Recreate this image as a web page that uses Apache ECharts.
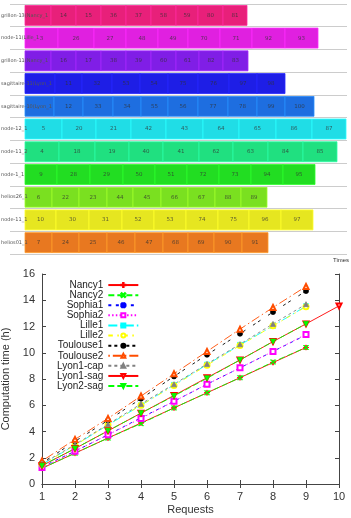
<!DOCTYPE html>
<html>
<head>
<meta charset="UTF-8">
<title>chart</title>
<script src="https://cdn.jsdelivr.net/npm/echarts@6/dist/echarts.min.js"></script>
<style>
html, body { margin: 0; padding: 0; background: #fff; }
#main { width: 351px; height: 518px; }
</style>
</head>
<body>
<div id="main"></div>
<script>
// ---- top: task placement on hosts (times in s) ----
var hosts = ['grillon-13(Nancy_1', 'node-11(Lille_1', 'grillon-11(Nancy_1', 'sagittaire-11(Lyon_1',
    'sagittaire-10(Lyon_1', 'node-12_1', 'node-11_2', 'node-1_1', 'helios26_1', 'node-11_1', 'helios01_1'];
var hostColors = ['#e8207a', '#e020e0', '#801ee6', '#1e1ee6', '#1e6ee0', '#20dde6',
    '#20e080', '#22dd22', '#7ae020', '#e6e620', '#e87820'];
var taskStart = 450;
var taskEnds = [
    [1230, 1980, 2730, 3480, 4230, 4980, 5640, 6390, 7110],
    [1440, 2520, 3480, 4440, 5340, 6300, 7260, 8250, 9240],
    [1230, 1980, 2730, 3480, 4230, 4980, 5670, 6390, 7140],
    [1350, 2160, 3060, 3900, 4740, 5640, 6570, 7410, 8250],
    [1320, 2190, 3090, 3930, 4740, 5640, 6540, 7410, 8250, 9120],
    [1560, 2580, 3630, 4680, 5790, 6870, 7980, 9060, 10080],
    [1470, 2550, 3570, 4590, 5670, 6690, 7740, 8790, 9810],
    [1410, 2400, 3390, 4350, 5310, 6270, 7230, 8190, 9150],
    [1260, 2070, 2910, 3690, 4530, 5340, 6150, 6930, 7710],
    [1380, 2370, 3360, 4320, 5280, 6240, 7170, 8130, 9090],
    [1260, 2070, 2910, 3750, 4590, 5340, 6120, 6960, 7740]
];
var taskIds = [
    ['', 14, 15, 36, 37, 58, 59, 80, 81],
    [3, 26, 27, 48, 49, 70, 71, 92, 93],
    ['', 16, 17, 38, 39, 60, 61, 82, 83],
    ['', 11, 32, 53, 54, 75, 76, 97, 98],
    ['', 12, 33, 34, 55, 56, 77, 78, 99, 100],
    [5, 20, 21, 42, 43, 64, 65, 86, 87],
    [4, 18, 19, 40, 41, 62, 63, 84, 85],
    [9, 28, 29, 50, 51, 72, 73, 94, 95],
    [6, 22, 23, 44, 45, 66, 67, 88, 89],
    [10, 30, 31, 52, 53, 74, 75, 96, 97],
    [7, 24, 25, 46, 47, 68, 69, 90, 91]
];

// ---- bottom: computation time (h) vs requests ----
var requests = [1, 2, 3, 4, 5, 6, 7, 8, 9, 10];
var nancy1 = [1.2, 2.35, 3.5, 4.65, 5.8, 6.95, 8.1, 9.25, 10.4];
var nancy2 = [1.2, 2.35, 3.5, 4.6, 5.8, 6.95, 8.1, 9.3, 10.4];
var sophia1 = [1.3, 2.5, 3.75, 5.05, 6.3, 7.6, 8.85, 10.1, 11.35];
var sophia2 = [1.25, 2.5, 3.75, 5.0, 6.3, 7.6, 8.85, 10.1, 11.4];
var lille1 = [1.5, 2.95, 4.5, 6.0, 7.55, 9.1, 10.6, 12.05, 13.55];
var lille2 = [1.5, 2.95, 4.5, 6.0, 7.5, 9.05, 10.55, 12.05, 13.5];
var toulouse1 = [1.6, 3.25, 4.85, 6.5, 8.2, 9.85, 11.45, 13.1, 14.7];
var toulouse2 = [1.75, 3.4, 5.0, 6.7, 8.4, 10.1, 11.8, 13.45, 15.05];
var lyon1cap = [1.55, 3.0, 4.55, 6.1, 7.6, 9.15, 10.65, 12.2, 13.7];
var lyon1sag = [1.4, 2.7, 4.05, 5.4, 6.75, 8.1, 9.45, 10.85, 12.2, 13.57];
var lyon2sag = [1.4, 2.7, 4.05, 5.4, 6.7, 8.05, 9.45, 10.85, 12.2];

var chart = echarts.init(document.getElementById('main'));

var tasks = [];
for (var r = 0; r < hosts.length; r++) {
    var s = taskStart;
    for (var k = 0; k < taskEnds[r].length; k++) {
        tasks.push([r, s, taskEnds[r][k], taskIds[r][k]]);
        s = taskEnds[r][k];
    }
}

function renderTask(params, api) {
    var row = api.value(0);
    var p0 = api.coord([api.value(1), row]);
    var p1 = api.coord([api.value(2), row]);
    var h = api.size([0, 1])[1] * 0.88;
    var col = hostColors[row];
    return {
        type: 'rect',
        shape: { x: p0[0], y: p0[1] - h / 2, width: p1[0] - p0[0], height: h },
        style: { fill: col, stroke: echarts.color.lift(col, -0.3), lineWidth: 0.8 },
        textContent: {
            style: { text: '' + api.value(3), fontSize: 5.5, fill: 'rgba(50,50,50,0.75)', fontFamily: 'DejaVu Sans' }
        },
        textConfig: { position: 'inside' }
    };
}

var dl = 1.5;
function pts(arr) {
    var out = [];
    for (var i = 0; i < arr.length; i++) out.push([requests[i], arr[i]]);
    return out;
}
var plusPath = 'path://M0,4.4H10V5.6H0Z M4.4,0H5.6V10H4.4Z';
var crossPath = 'path://M1,0L5,4L9,0L10,1L6,5L10,9L9,10L5,6L1,10L0,9L4,5L0,1Z';
var starPath = 'path://M0,4.4H10V5.6H0Z M4.4,0H5.6V10H4.4Z M1.5,0.7L5,4.2L8.5,0.7L9.3,1.5L5.8,5L9.3,8.5L8.5,9.3L5,5.8L1.5,9.3L0.7,8.5L4.2,5L0.7,1.5Z';

function lineSeries(name, arr, color, dash, symbol, rot) {
    return {
        name: name, type: 'line', xAxisIndex: 1, yAxisIndex: 1,
        data: pts(arr), symbol: symbol, symbolSize: 5, symbolRotate: rot || 0,
        showAllSymbol: true, animation: false,
        lineStyle: { color: color, width: 0.9, type: dash },
        itemStyle: { color: color, borderColor: color, borderWidth: 0.8 }
    };
}

var axisGray = '#444';
var option = {
    animation: false,
    textStyle: { fontFamily: 'Liberation Sans' },
    grid: [
        { left: 10, top: 4, width: 337, height: 250, outerBoundsMode: 'none', containLabel: false },
        { left: 42, top: 274, right: 12, bottom: 34, outerBoundsMode: 'none', containLabel: false }
    ],
    xAxis: [
        {
            gridIndex: 0, type: 'value', min: 0, max: 10110, interval: 500,
            name: 'Times', nameLocation: 'end', nameGap: -14,
            nameTextStyle: { fontSize: 6, color: '#333', verticalAlign: 'top', padding: [3, 0, 0, 0] },
            axisLine: { lineStyle: { color: '#999', width: 1 } },
            axisTick: { length: 3, lineStyle: { color: '#999' } },
            axisLabel: { show: false }, splitLine: { show: false }
        },
        {
            gridIndex: 1, type: 'value', min: 1, max: 10, interval: 1,
            name: 'Requests', nameLocation: 'middle', nameGap: 20,
            nameTextStyle: { fontSize: 11, color: '#333' },
            axisLine: { lineStyle: { color: axisGray, width: 1 } },
            axisTick: { inside: true, length: 4, lineStyle: { color: axisGray } },
            axisLabel: { fontSize: 11, color: '#333', margin: 7 },
            splitLine: { show: false }
        },
        {
            gridIndex: 1, type: 'value', min: 1, max: 10, interval: 1, position: 'top',
            axisLine: { lineStyle: { color: axisGray, width: 1 } },
            axisTick: { inside: true, length: 4, lineStyle: { color: axisGray } },
            axisLabel: { show: false }, splitLine: { show: false }
        }
    ],
    yAxis: [
        {
            gridIndex: 0, type: 'category', data: hosts, inverse: true, z: 10,
            axisLine: { show: false }, axisTick: { show: false },
            axisLabel: { align: 'left', margin: 9, fontSize: 5, color: '#555', fontFamily: 'DejaVu Sans' },
            splitLine: { show: true, lineStyle: { color: '#ccc', width: 1 } }
        },
        {
            gridIndex: 1, type: 'value', min: 0, max: 16, interval: 2,
            name: 'Computation time (h)', nameLocation: 'middle', nameGap: 30,
            nameTextStyle: { fontSize: 11, color: '#333' },
            axisLine: { lineStyle: { color: axisGray, width: 1 } },
            axisTick: { inside: true, length: 4, lineStyle: { color: axisGray } },
            axisLabel: { fontSize: 11, color: '#333', margin: 7 },
            splitLine: { show: false }
        },
        {
            gridIndex: 1, type: 'value', min: 0, max: 16, interval: 2, position: 'right',
            axisLine: { lineStyle: { color: axisGray, width: 1 } },
            axisTick: { inside: true, length: 4, lineStyle: { color: axisGray } },
            axisLabel: { show: false }, splitLine: { show: false }
        }
    ],
    legend: {
        orient: 'vertical', align: 'right', left: 52, top: 275,
        itemWidth: 30, itemHeight: 5, itemGap: 0,
        textStyle: { fontSize: 10, lineHeight: 10.1, color: '#222' },
        data: ['Nancy1', 'Nancy2', 'Sophia1', 'Sophia2', 'Lille1', 'Lille2', 'Toulouse1', 'Toulouse2', 'Lyon1-cap', 'Lyon1-sag', 'Lyon2-sag']
    },
    series: [
        {
            type: 'custom', xAxisIndex: 0, yAxisIndex: 0, renderItem: renderTask,
            encode: { x: [1, 2], y: 0 }, data: tasks, clip: false
        },
        lineSeries('Nancy1', nancy1, '#ff0000', 'solid', plusPath),
        lineSeries('Nancy2', nancy2, '#00ff00', [4 * dl, 2 * dl], crossPath),
        lineSeries('Sophia1', sophia1, '#0000ff', [2 * dl, 3 * dl], starPath),
        lineSeries('Sophia2', sophia2, '#ff00ff', [1 * dl, 1.5 * dl], 'emptyRect'),
        lineSeries('Lille1', lille1, '#00ffff', [6 * dl, 2 * dl, 1 * dl, 2 * dl], 'rect'),
        lineSeries('Lille2', lille2, '#ffff00', [3 * dl, 3 * dl, 1 * dl, 3 * dl], 'emptyCircle'),
        lineSeries('Toulouse1', toulouse1, '#000000', [2 * dl, 2 * dl, 2 * dl, 6 * dl], 'circle'),
        lineSeries('Toulouse2', toulouse2, '#ff4d00', [1 * dl, 2 * dl, 6 * dl, 2 * dl], 'emptyTriangle'),
        lineSeries('Lyon1-cap', lyon1cap, '#808080', [2 * dl, 2 * dl], 'triangle'),
        lineSeries('Lyon1-sag', lyon1sag, '#ff0000', 'solid', 'emptyTriangle', 180),
        lineSeries('Lyon2-sag', lyon2sag, '#00ff00', [4 * dl, 2 * dl], 'triangle', 180)
    ]
};
chart.setOption(option);
</script>
</body>
</html>
